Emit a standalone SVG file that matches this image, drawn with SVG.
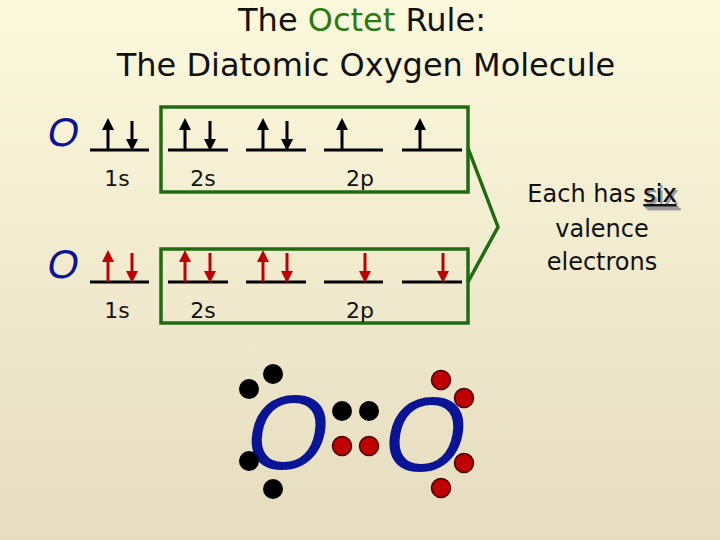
<svg xmlns="http://www.w3.org/2000/svg" width="720" height="540" viewBox="0 0 720 540">
<defs>
<linearGradient id="bg" x1="0" y1="0" x2="0" y2="1"><stop offset="0" stop-color="#fcf9dc"/><stop offset="1" stop-color="#e6dcc0"/></linearGradient>
<marker id="ak" viewBox="0 0 10 10" refX="5" refY="5" markerWidth="4" markerHeight="4" orient="auto"><path d="M0,0L10,5L0,10z" fill="#000"/></marker>
<marker id="ar" viewBox="0 0 10 10" refX="5" refY="5" markerWidth="4" markerHeight="4" orient="auto"><path d="M0,0L10,5L0,10z" fill="#c00000"/></marker>
</defs>
<style>
.t{font-family:"DejaVu Sans",sans-serif;fill:#111}
.lv{stroke:#000;stroke-width:3}
.bx{fill:none;stroke:#1f6b12;stroke-width:3.5}
.k{stroke:#000;stroke-width:3;marker-end:url(#ak)}
.r{stroke:#c00000;stroke-width:3;marker-end:url(#ar)}
.O{font-family:"Liberation Sans",sans-serif;fill:#0a1496}
.dk{fill:#000}
.dr{fill:#c00000;stroke:#400;stroke-width:1.5}
</style>
<rect width="720" height="540" fill="url(#bg)"/>
<g id="title" class="t" font-size="32" text-anchor="middle">
<text x="362" y="31">The <tspan fill="#2a7a12">Octet</tspan> Rule:</text>
<text x="366" y="76">The Diatomic Oxygen Molecule</text>
</g>
<g id="atom1">
<text class="O" x="64" y="146" font-size="40" text-anchor="middle" transform="skewX(-10) translate(23 0)">O</text>
<g class="lv"><line x1="90" y1="150" x2="149" y2="150"/><line x1="168" y1="150" x2="228" y2="150"/><line x1="246" y1="150" x2="306" y2="150"/><line x1="324" y1="150" x2="383" y2="150"/><line x1="402" y1="150" x2="462" y2="150"/></g>
<line class="k" x1="108" y1="150" x2="108" y2="124"/><line class="k" x1="132" y1="121" x2="132" y2="145"/>
<line class="k" x1="185" y1="150" x2="185" y2="124"/><line class="k" x1="210" y1="121" x2="210" y2="145"/>
<line class="k" x1="263" y1="150" x2="263" y2="124"/><line class="k" x1="287" y1="121" x2="287" y2="145"/>
<line class="k" x1="342" y1="150" x2="342" y2="124"/><line class="k" x1="420" y1="150" x2="420" y2="124"/>
<rect class="bx" x="161" y="107" width="307" height="85"/>
<g class="t" font-size="22" text-anchor="middle"><text x="117" y="186">1s</text><text x="203" y="186">2s</text><text x="360" y="186">2p</text></g>
</g>
<g id="atom2">
<text class="O" x="64" y="278" font-size="40" text-anchor="middle" transform="skewX(-10) translate(46 0)">O</text>
<g class="lv"><line x1="90" y1="282" x2="149" y2="282"/><line x1="168" y1="282" x2="228" y2="282"/><line x1="246" y1="282" x2="306" y2="282"/><line x1="324" y1="282" x2="383" y2="282"/><line x1="402" y1="282" x2="462" y2="282"/></g>
<line class="r" x1="108" y1="282" x2="108" y2="256"/><line class="r" x1="132" y1="253" x2="132" y2="277"/>
<line class="r" x1="185" y1="282" x2="185" y2="256"/><line class="r" x1="210" y1="253" x2="210" y2="277"/>
<line class="r" x1="263" y1="282" x2="263" y2="256"/><line class="r" x1="287" y1="253" x2="287" y2="277"/>
<line class="r" x1="365" y1="253" x2="365" y2="277"/><line class="r" x1="443" y1="253" x2="443" y2="277"/>
<rect class="bx" x="161" y="249" width="307" height="74"/>
<g class="t" font-size="22" text-anchor="middle"><text x="117" y="318">1s</text><text x="203" y="318">2s</text><text x="360" y="318">2p</text></g>
</g>
<g id="connectors"><polyline points="468,148 498,227 468,282" fill="none" stroke="#1f6b12" stroke-width="3.5"/></g>
<g id="note" class="t" font-size="24" text-anchor="middle">
<text x="602" y="202">Each has <tspan text-decoration="underline" style="text-shadow:2px 2px 0 #999">six</tspan></text>
<text x="602" y="237">valence</text>
<text x="602" y="270">electrons</text>
</g>
<g id="lewis">
<text class="O" x="289" y="469" font-size="106" text-anchor="middle" transform="skewX(-10) translate(76 0)">O</text>
<text class="O" x="426" y="471" font-size="106" text-anchor="middle" transform="skewX(-10) translate(77 0)">O</text>
<circle class="dk" cx="273" cy="374" r="10"/><circle class="dk" cx="249" cy="389" r="10"/><circle class="dk" cx="249" cy="461" r="10"/><circle class="dk" cx="273" cy="489" r="10"/>
<circle class="dk" cx="342" cy="411" r="10"/><circle class="dk" cx="369" cy="411" r="10"/>
<circle class="dr" cx="342" cy="446" r="9.5"/><circle class="dr" cx="369" cy="446" r="9.5"/>
<circle class="dr" cx="441" cy="380" r="9.5"/><circle class="dr" cx="464" cy="398" r="9.5"/><circle class="dr" cx="464" cy="463" r="9.5"/><circle class="dr" cx="441" cy="488" r="9.5"/>
</g>
</svg>
